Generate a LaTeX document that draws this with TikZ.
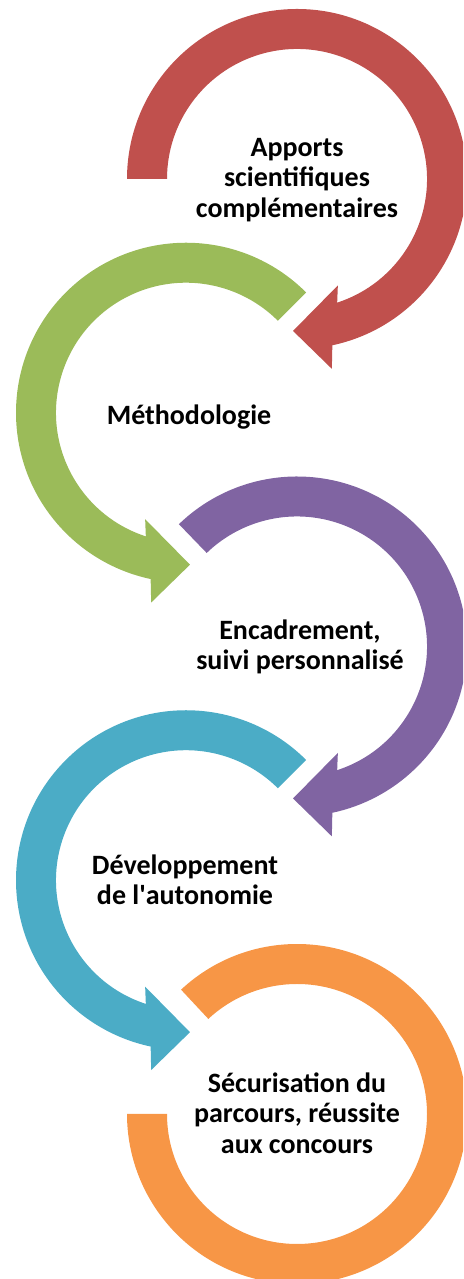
\documentclass[tikz,border=0pt]{standalone}
\usepackage{fontspec}
\setmainfont{Carlito}

\definecolor{arrred}{HTML}{C0504D}
\definecolor{arrgreen}{HTML}{9BBB59}
\definecolor{arrpurple}{HTML}{8064A2}
\definecolor{arrcyan}{HTML}{4BACC6}
\definecolor{arrorange}{HTML}{F79646}

\begin{document}
\begin{tikzpicture}[x=1pt,y=1pt,inner sep=0pt,
  lbl/.style={align=center,font=\fontsize{28}{30.5}\selectfont\bfseries}]

\useasboundingbox (0,0) rectangle (463,1279);
\clip (0,0) rectangle (463,1279);

% clockwise arrows (right column)
\fill [arrred, shift={(297,1100)}] (180:170) arc [start angle=180, end angle=-78, radius=170]
  -- (-79.6:193) -- (-91.5:152) -- (-69:114) -- (-72:130)
  arc [start angle=-72, end angle=180, radius=130] -- cycle;
\fill [arrpurple, shift={(297,632.5)}] (134:170) arc [start angle=134, end angle=-78, radius=170]
  -- (-79.6:193) -- (-91.5:152) -- (-69:114) -- (-72:130)
  arc [start angle=-72, end angle=134, radius=130] -- cycle;

% counter-clockwise arrows (left column)
\fill [arrgreen, shift={(186,866.25)}] (45:170) arc [start angle=45, end angle=258, radius=170]
  -- (259.6:193) -- (271.5:152) -- (249:114) -- (252:130)
  arc [start angle=252, end angle=45, radius=130] -- cycle;
\fill [arrcyan, shift={(186,398.75)}] (45:170) arc [start angle=45, end angle=258, radius=170]
  -- (259.6:193) -- (271.5:152) -- (249:114) -- (252:130)
  arc [start angle=252, end angle=45, radius=130] -- cycle;

% last ring, no head
\fill [arrorange, shift={(297,165)}] (133:170) arc [start angle=133, end angle=-180, radius=170]
  -- (180:130) arc [start angle=-180, end angle=133, radius=130] -- cycle;

\node [lbl] (apports) at (297,1099) {Apports\\scientifiques\\compl\'ementaires};
\node [lbl] (methodo) at (189,862) {Méthodologie};
\node [lbl] (encadrement) at (300,632) {Encadrement,\\suivi personnalisé};
\node [lbl] (autonomie) at (185,399) {Développement\\de l\textquotesingle autonomie};
\node [lbl] (securisation) at (297,166) {Sécurisation du\\parcours, réussite\\aux concours};

\end{tikzpicture}
\end{document}
